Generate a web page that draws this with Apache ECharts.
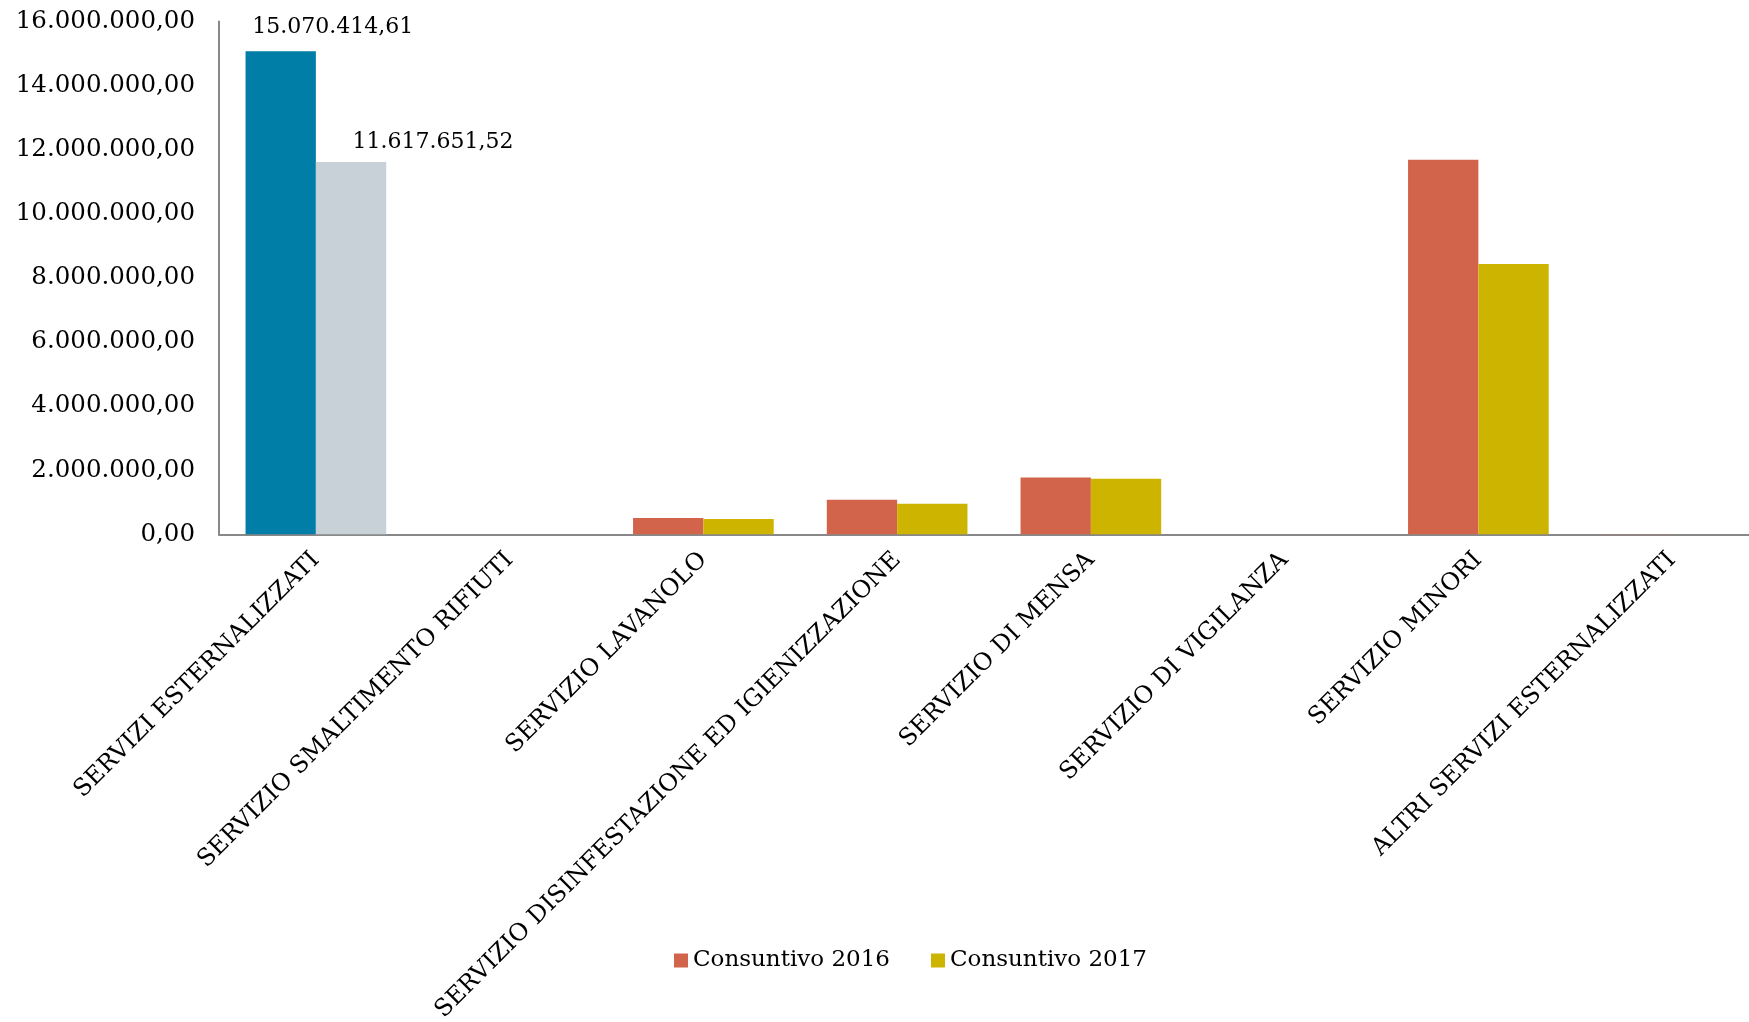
<!DOCTYPE html>
<html>
<head>
<meta charset="utf-8">
<script src="https://cdn.jsdelivr.net/npm/echarts@6/dist/echarts.min.js"></script>
<style>
html,body{margin:0;padding:0;background:#fff;}
#chart{width:1749px;height:1022px;}
</style>
</head>
<body>
<div id="chart"></div>
<script>
const categories = [
  'SERVIZI ESTERNALIZZATI',
  'SERVIZIO SMALTIMENTO RIFIUTI',
  'SERVIZIO LAVANOLO',
  'SERVIZIO DISINFESTAZIONE ED IGIENIZZAZIONE',
  'SERVIZIO DI MENSA',
  'SERVIZIO DI VIGILANZA',
  'SERVIZIO MINORI',
  'ALTRI SERVIZI ESTERNALIZZATI'
];
const seriesNames = ['Consuntivo 2016', 'Consuntivo 2017'];
const cons2016 = [15070414.61, 0, 510000, 1078000, 1776000, 0, 11690000, 12000];
const cons2017 = [11617651.52, 0, 478000, 950000, 1735000, 0, 8430000, 0];
const yTicks = [0, 2000000, 4000000, 6000000, 8000000, 10000000, 12000000, 14000000, 16000000];

const FONT = '"DejaVu Serif", Georgia, serif';
const RED = '#D1644B', YEL = '#CDB400', BLUE = '#007EA7', GRAY = '#C7D1D7';

function itFmt(v) {
  const fixed = Math.abs(v).toFixed(2);
  let [intPart, dec] = fixed.split('.');
  intPart = intPart.replace(/\B(?=(\d{3})+(?!\d))/g, '.');
  return (v < 0 ? '-' : '') + intPart + ',' + dec;
}

function buildData(values, firstColor, labelOffset, labelDist) {
  return values.map((v, i) => {
    if (i === 0) {
      return {
        value: v,
        itemStyle: { color: firstColor },
        label: {
          show: true, position: 'top', distance: labelDist, offset: labelOffset,
          formatter: p => itFmt(p.value),
          color: '#000', fontFamily: FONT, fontSize: 22
        }
      };
    }
    return v;
  });
}

const chart = echarts.init(document.getElementById('chart'), null, { renderer: 'canvas' });
chart.setOption({
  animation: false,
  backgroundColor: '#fff',
  grid: { left: 219, width: 1550, top: 21.5, bottom: 487.7, containLabel: false, outerBoundsMode: 'none' },
  legend: {
    data: seriesNames,
    bottom: 45,
    left: 669,
    itemWidth: 14, itemHeight: 14, itemGap: 41,
    icon: 'rect',
    textStyle: { fontFamily: FONT, fontSize: 23, color: '#000', padding: [0, 0, 0, 0] }
  },
  xAxis: {
    type: 'category',
    data: categories,
    axisLine: { show: true, lineStyle: { color: '#888', width: 2 } },
    axisTick: { show: false },
    axisLabel: {
      interval: 0, rotate: 45, margin: 22,
      fontFamily: FONT, fontSize: 24, color: '#000'
    }
  },
  yAxis: {
    type: 'value',
    min: 0, max: 16000000, interval: 2000000,
    axisLine: { show: true, lineStyle: { color: '#888', width: 2 } },
    axisTick: { show: false },
    splitLine: { show: false },
    axisLabel: {
      formatter: v => itFmt(v), margin: 24,
      fontFamily: FONT, fontSize: 24.5, color: '#000'
    }
  },
  series: [
    {
      name: seriesNames[0], type: 'bar',
      itemStyle: { color: RED },
      barGap: '0%', barCategoryGap: '27.4%',
      data: buildData(cons2016, BLUE, [52, 0], 13)
    },
    {
      name: seriesNames[1], type: 'bar',
      itemStyle: { color: YEL },
      barGap: '0%', barCategoryGap: '27.4%',
      data: buildData(cons2017, GRAY, [82, 0], 9)
    }
  ]
});
</script>
</body>
</html>
